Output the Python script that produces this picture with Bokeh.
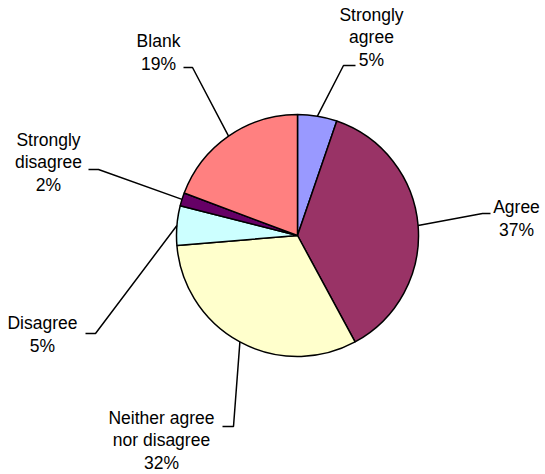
import math
from bokeh.plotting import figure
from bokeh.models import Range1d, ColumnDataSource
from bokeh.embed import file_html
from bokeh.resources import INLINE
from bokeh.core.properties import value

# ---- data ----
categories = ["Strongly agree", "Agree", "Neither agree nor disagree",
              "Disagree", "Strongly disagree", "Blank"]
label_text = ["Strongly\nagree", "Agree", "Neither agree\nnor disagree",
              "Disagree", "Strongly\ndisagree", "Blank"]
counts = [3, 21, 18, 3, 1, 11]
colors = ["#9999FF", "#993366", "#FFFFCC", "#CCFFFF", "#660066", "#FF8080"]

# ---- layout (image pixel coordinates, y down) ----
CX, CY, R = 297, 235, 121
label_xy = [(371, 37), (516, 218), (161, 440), (42, 334), (48, 162), (158, 52)]
elbow_xy = [(343, 65), (482, 213), (233, 426), (95, 333), (98, 169), (192, 67)]
tick_xy = [(355, 65), (490, 213), (222, 426), (85, 333), (88, 169), (183, 67)]

W, H = 545, 474
p = figure(width=W, height=H, output_backend="svg", toolbar_location=None,
           x_range=Range1d(0, W), y_range=Range1d(-H, 0),
           x_axis_location=None, y_axis_location=None, min_border=0)
p.grid.visible = False
p.outline_line_color = None
p.background_fill_color = "white"
p.border_fill_color = "white"

total = sum(counts)
starts, ends, mids = [], [], []
cum = 0
for c in counts:
    a0 = cum / total
    cum += c
    a1 = cum / total
    starts.append(math.pi / 2 - a0 * 2 * math.pi)
    ends.append(math.pi / 2 - a1 * 2 * math.pi)
    mids.append(math.pi / 2 - (a0 + a1) / 2 * 2 * math.pi)

pct = [f"{round(100 * c / total)}%" for c in counts]

src = ColumnDataSource(dict(cat=categories, start=starts, end=ends, color=colors,
                            x=[CX] * len(counts), y=[-CY] * len(counts)))
p.wedge(x="x", y="y", radius=R, start_angle="start", end_angle="end",
        direction="clock", fill_color="color", line_color="black",
        line_width=1.5, source=src)

# leader lines
xs, ys = [], []
for m, e, t in zip(mids, elbow_xy, tick_xy):
    sx = CX + R * math.cos(m)
    sy = -CY + R * math.sin(m)
    xs.append([sx, e[0], t[0]])
    ys.append([sy, -e[1], -t[1]])
p.multi_line(xs=xs, ys=ys, line_color="black", line_width=1.5)

# labels
p.text(x=[lx for lx, ly in label_xy], y=[-ly for lx, ly in label_xy],
       text=[f"{l}\n{pc}" for l, pc in zip(label_text, pct)],
       text_font=value("Liberation Sans"), text_font_size="17.5px",
       text_color="black", text_align="center", text_baseline="middle",
       text_line_height=1.12)

open("out.html", "w").write(file_html(p, INLINE))
